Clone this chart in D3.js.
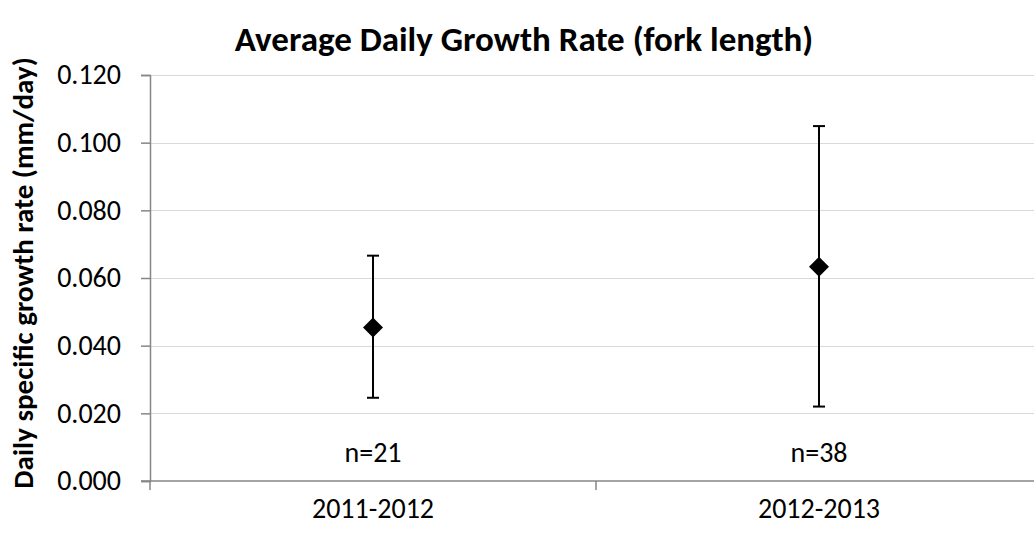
<!DOCTYPE html>
<html>
<head>
<meta charset="utf-8">
<script src="https://cdn.jsdelivr.net/npm/d3@7"></script>
<style>
  html, body { margin: 0; padding: 0; background: #fff; overflow: hidden; }
  svg { display: block; font-family: "Carlito", "Open Sans", sans-serif; }
</style>
</head>
<body>
<div id="chart"></div>
<script>
// 数据
const seasons = ['2011-2012', '2012-2013'];
const meanRate = [0.0454, 0.0633];
const errLow = [0.0246, 0.0220];
const errHigh = [0.0666, 0.1049];
const sampleLabels = ['n=21', 'n=38'];
const yTicks = [0, 0.02, 0.04, 0.06, 0.08, 0.10, 0.12];

const width = 1034, height = 533;
const margin = { top: 75, right: -8, bottom: 52, left: 150 };
const innerW = width - margin.left - margin.right;
const innerH = height - margin.top - margin.bottom;

const svg = d3.select('#chart').append('svg')
  .attr('width', width)
  .attr('height', height);

const g = svg.append('g')
  .attr('transform', `translate(${margin.left}, ${margin.top})`);

// 比例尺
const x = d3.scaleBand().domain(seasons).range([0, innerW]);
const y = d3.scaleLinear().domain([0, 0.12]).range([innerH, 0]);

// 网格线
g.selectAll('.grid')
  .data(yTicks.slice(1))
  .enter()
  .append('line')
  .attr('x1', 0)
  .attr('x2', innerW)
  .attr('y1', d => Math.round(y(d)) + 0.5)
  .attr('y2', d => Math.round(y(d)) + 0.5)
  .attr('stroke', '#d9d9d9')
  .attr('stroke-width', 1);

// Y轴
const yAxis = g.append('g')
  .call(d3.axisLeft(y).tickValues(yTicks).tickFormat(d3.format('.3f')).tickSize(9).tickPadding(20));
yAxis.select('.domain').attr('stroke', '#868686').attr('stroke-width', 1.5);
yAxis.selectAll('.tick line').attr('stroke', '#868686').attr('stroke-width', 1.5);
yAxis.selectAll('text')
  .attr('fill', '#000')
  .style('font-size', '28px')
  .style('font-family', '"Carlito", "Open Sans", sans-serif');

// X轴 (刻度在类别之间)
const xAxisG = g.append('g')
  .attr('transform', `translate(0, ${innerH})`);
xAxisG.append('line')
  .attr('x1', -9).attr('x2', innerW)
  .attr('stroke', '#868686').attr('stroke-width', 1.5);
xAxisG.selectAll('.xtick')
  .data([0, x.step()])
  .enter()
  .append('line')
  .attr('x1', d => d).attr('x2', d => d)
  .attr('y1', 0).attr('y2', 9)
  .attr('stroke', '#868686').attr('stroke-width', 1.5);
xAxisG.selectAll('.xlabel')
  .data(seasons)
  .enter()
  .append('text')
  .attr('x', d => x(d) + x.bandwidth() / 2)
  .attr('y', 37)
  .attr('text-anchor', 'middle')
  .style('font-size', '28px')
  .text(d => d);

// 误差线
const pts = seasons.map((s, i) => ({ s, m: meanRate[i], lo: errLow[i], hi: errHigh[i], n: sampleLabels[i] }));
const cx = d => x(d.s) + x.bandwidth() / 2;

g.selectAll('.err')
  .data(pts)
  .enter()
  .append('line')
  .attr('x1', cx).attr('x2', cx)
  .attr('y1', d => y(d.lo)).attr('y2', d => y(d.hi))
  .attr('stroke', '#000').attr('stroke-width', 2);

['lo', 'hi'].forEach(k => {
  g.selectAll('.cap-' + k)
    .data(pts)
    .enter()
    .append('line')
    .attr('x1', d => cx(d) - 6).attr('x2', d => cx(d) + 6)
    .attr('y1', d => y(d[k])).attr('y2', d => y(d[k]))
    .attr('stroke', '#000').attr('stroke-width', 2);
});

// 菱形标记
g.selectAll('.pt')
  .data(pts)
  .enter()
  .append('path')
  .attr('d', d3.symbol(d3.symbolSquare, 200))
  .attr('transform', d => `translate(${cx(d)}, ${y(d.m)}) rotate(45)`)
  .attr('fill', '#000');

// 样本数标签
g.selectAll('.nlabel')
  .data(pts)
  .enter()
  .append('text')
  .attr('x', cx)
  .attr('y', y(0.0057))
  .attr('text-anchor', 'middle')
  .style('font-size', '28px')
  .text(d => d.n);

// 标题
svg.append('text')
  .attr('x', 524)
  .attr('y', 51)
  .attr('text-anchor', 'middle')
  .style('font-size', '35px')
  .style('font-weight', 'bold')
  .text('Average Daily Growth Rate (fork length)');

// Y轴标签
svg.append('text')
  .attr('transform', `translate(33, 273) rotate(-90)`)
  .attr('text-anchor', 'middle')
  .style('font-size', '29px')
  .style('font-weight', 'bold')
  .text('Daily specific growth rate (mm/day)');
</script>
</body>
</html>
